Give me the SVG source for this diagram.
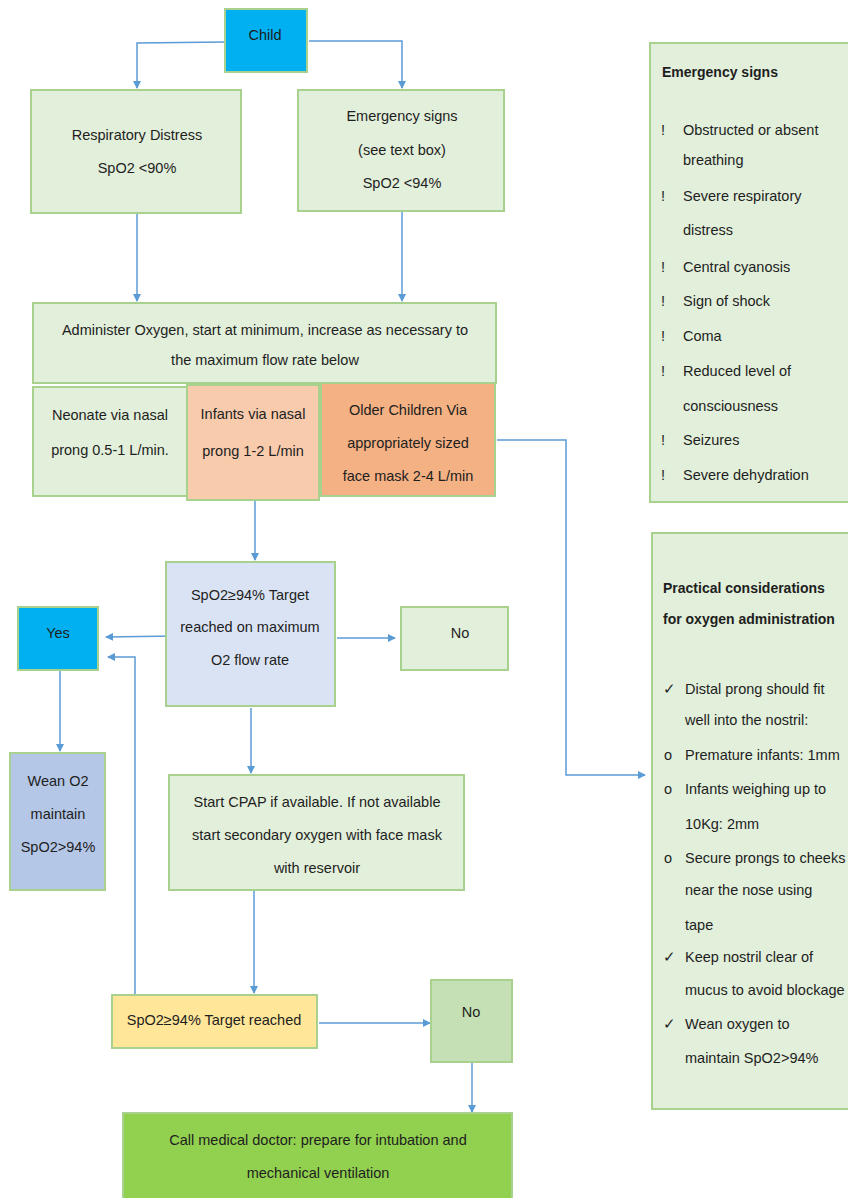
<svg xmlns="http://www.w3.org/2000/svg" width="848" height="1198" viewBox="0 0 848 1198">
<style>
text{font-family:"Liberation Sans",Arial,sans-serif;font-size:14.5px;fill:#1e1e1e;text-anchor:middle}
.l{text-anchor:start}
.b{font-weight:bold;font-size:14px}
.box{stroke:#A9D18E;stroke-width:2}
.g{fill:#E2EFDA}
.c{stroke:#5B9BD5;stroke-width:1.5;fill:none;marker-end:url(#ah)}
</style>
<defs>
<marker id="ah" markerWidth="8" markerHeight="8" refX="7" refY="4" orient="auto" markerUnits="userSpaceOnUse">
<path d="M0,0 L8,4 L0,8 Z" fill="#5B9BD5"/>
</marker>
</defs>
<rect width="848" height="1198" fill="#fff"/>
<g id="connectors">
<path class="c" d="M225,42 L137,43 L137,88"/>
<path class="c" d="M309,41 L402,41 L402,88"/>
<path class="c" d="M137,214 L137,301"/>
<path class="c" d="M402,212 L402,301"/>
<path class="c" d="M497,440 L566,440 L566,775 L645,775"/>
<path class="c" d="M255,501 L255,560"/>
<path class="c" d="M175,636 L106,637"/>
<path class="c" d="M337,638 L395,638"/>
<path class="c" d="M135,995 L135,657 L108,657"/>
<path class="c" d="M60,671 L60,751"/>
<path class="c" d="M251,708 L251,773"/>
<path class="c" d="M254,891 L254,993"/>
<path class="c" d="M319,1023 L430,1023"/>
<path class="c" d="M472,1063 L472,1112"/>
</g>
<g id="child"><rect class="box" x="225" y="9" width="82" height="63" fill="#00B0F0"/><text x="265" y="40">Child</text></g>
<g id="resp"><rect class="box g" x="31" y="90" width="210" height="123"/><text x="137" y="140">Respiratory Distress</text><text x="137" y="173">SpO2 &lt;90%</text></g>
<g id="emerg"><rect class="box g" x="298" y="90" width="206" height="121"/><text x="402" y="121">Emergency signs</text><text x="402" y="155">(see text box)</text><text x="402" y="188">SpO2 &lt;94%</text></g>
<g id="admin"><rect class="box g" x="33" y="303" width="463" height="80"/><text x="265" y="335">Administer Oxygen, start at minimum, increase as necessary to</text><text x="265" y="365">the maximum flow rate below</text></g>
<g id="neonate"><rect class="box g" x="33" y="387" width="154" height="109"/><text x="110" y="420">Neonate via nasal</text><text x="110" y="455">prong 0.5-1 L/min.</text></g>
<g id="infants"><rect class="box" x="187" y="385" width="132" height="115" fill="#F8CBAD"/><text x="253" y="419">Infants via nasal</text><text x="253" y="456">prong 1-2 L/min</text></g>
<g id="older"><rect class="box" x="321" y="383" width="174" height="113" fill="#F4B183"/><text x="408" y="415">Older Children Via</text><text x="408" y="448">appropriately sized</text><text x="408" y="481">face mask 2-4 L/min</text></g>
<g id="target1"><rect class="box" x="166" y="562" width="169" height="144" fill="#DAE3F3"/><text x="250" y="600">SpO2≥94% Target</text><text x="250" y="632">reached on maximum</text><text x="250" y="665">O2 flow rate</text></g>
<g id="yes"><rect class="box" x="18" y="607" width="80" height="63" fill="#00B0F0"/><text x="58" y="638">Yes</text></g>
<g id="no1"><rect class="box g" x="401" y="607" width="107" height="63"/><text x="460" y="638">No</text></g>
<g id="wean"><rect class="box" x="10" y="753" width="95" height="137" fill="#B4C7E7"/><text x="58" y="786">Wean O2</text><text x="58" y="819">maintain</text><text x="58" y="852">SpO2&gt;94%</text></g>
<g id="cpap"><rect class="box g" x="169" y="775" width="295" height="115"/><text x="317" y="807">Start CPAP if available. If not available</text><text x="317" y="840">start secondary oxygen with face mask</text><text x="317" y="873">with reservoir</text></g>
<g id="target2"><rect class="box" x="112" y="995" width="205" height="53" fill="#FFE699"/><text x="214" y="1025">SpO2≥94% Target reached</text></g>
<g id="no2"><rect class="box" x="431" y="980" width="81" height="82" fill="#C5E0B4"/><text x="471" y="1017">No</text></g>
<g id="call"><rect class="box" x="123" y="1113" width="389" height="90" fill="#92D050"/><text x="318" y="1145">Call medical doctor: prepare for intubation and</text><text x="318" y="1178">mechanical ventilation</text></g>
<g id="emergency-signs">
<rect class="box g" x="650" y="43" width="205" height="459"/>
<text class="l b" x="662" y="77">Emergency signs</text>
<text class="l" x="661" y="135">!</text><text class="l" x="683" y="135">Obstructed or absent</text>
<text class="l" x="683" y="165">breathing</text>
<text class="l" x="661" y="201">!</text><text class="l" x="683" y="201">Severe respiratory</text>
<text class="l" x="683" y="235">distress</text>
<text class="l" x="661" y="272">!</text><text class="l" x="683" y="272">Central cyanosis</text>
<text class="l" x="661" y="306">!</text><text class="l" x="683" y="306">Sign of shock</text>
<text class="l" x="661" y="341">!</text><text class="l" x="683" y="341">Coma</text>
<text class="l" x="661" y="376">!</text><text class="l" x="683" y="376">Reduced level of</text>
<text class="l" x="683" y="411">consciousness</text>
<text class="l" x="661" y="445">!</text><text class="l" x="683" y="445">Seizures</text>
<text class="l" x="661" y="480">!</text><text class="l" x="683" y="480">Severe dehydration</text>
</g>
<g id="practical">
<rect class="box g" x="652" y="533" width="205" height="576"/>
<text class="l b" x="663" y="593">Practical considerations</text>
<text class="l b" x="663" y="624">for oxygen administration</text>
<text class="l" x="663" y="694">✓</text><text class="l" x="685" y="694">Distal prong should fit</text>
<text class="l" x="685" y="725">well into the nostril:</text>
<text class="l" x="664" y="760">o</text><text class="l" x="685" y="760">Premature infants: 1mm</text>
<text class="l" x="664" y="794">o</text><text class="l" x="685" y="794">Infants weighing up to</text>
<text class="l" x="685" y="829">10Kg: 2mm</text>
<text class="l" x="664" y="863">o</text><text class="l" x="685" y="863">Secure prongs to cheeks</text>
<text class="l" x="685" y="895">near the nose using</text>
<text class="l" x="685" y="930">tape</text>
<text class="l" x="663" y="962">✓</text><text class="l" x="685" y="962">Keep nostril clear of</text>
<text class="l" x="685" y="995">mucus to avoid blockage</text>
<text class="l" x="663" y="1029">✓</text><text class="l" x="685" y="1029">Wean oxygen to</text>
<text class="l" x="685" y="1063">maintain SpO2&gt;94%</text>
</g>
</svg>
